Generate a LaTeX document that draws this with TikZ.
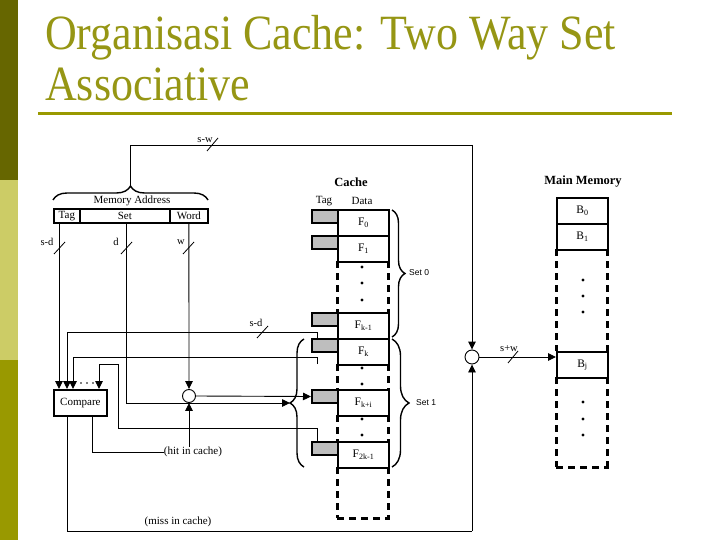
\documentclass[tikz,border=0pt]{standalone}
\usepackage{fontspec}
\setmainfont{Liberation Serif}
\newfontfamily\sansf{Liberation Sans}
\usetikzlibrary{decorations.pathreplacing,arrows.meta,calc}
\definecolor{olivedark}{RGB}{102,102,0}
\definecolor{olivelight}{RGB}{204,204,102}
\definecolor{olivemid}{RGB}{153,153,0}
\definecolor{titlecol}{RGB}{150,150,20}
\definecolor{taggray}{RGB}{190,190,190}
\tikzset{
  lbl/.style={font=\fontsize{11}{12}\selectfont, inner sep=0},
  small/.style={font=\fontsize{10.5}{11}\selectfont, inner sep=0},
  setlbl/.style={font=\sansf\fontsize{8.5}{9}\selectfont, inner sep=0, anchor=west},
  head/.style={font=\bfseries\fontsize{12.5}{14}\selectfont, inner sep=0},
  datarow/.style={draw, line width=2, fill=white, minimum width=51, minimum height=26, anchor=north west, inner sep=0, font=\fontsize{11.5}{12}\selectfont},
  tagbox/.style={draw, line width=2, fill=taggray, minimum width=26, minimum height=13, anchor=north west, inner sep=0},
  addrfield/.style={draw, line width=1.8, minimum height=14, anchor=north west, inner sep=0, font=\fontsize{11}{12}\selectfont},
  thickdash/.style={line width=3, dash pattern=on 7pt off 5pt},
  conn/.style={line width=0.9},
  arr/.style={conn, -{Triangle[length=8pt,width=7.5pt]}},
  slashmark/.style={line width=0.8},
  brc/.style={line width=1.4, decorate, decoration={brace, amplitude=#1}},
  dotmark/.style={circle, fill=black, inner sep=0, minimum size=3.2},
}
\begin{document}
\begin{tikzpicture}[x=1pt,y=-1pt]
\useasboundingbox (0,0) rectangle (720,540);
% side bar
\fill[olivedark] (0,0) rectangle (18,180);
\fill[olivelight] (0,180) rectangle (18,360);
\fill[olivemid] (0,360) rectangle (18,540);
% title
\node[anchor=base west, inner sep=0, text=titlecol, font=\fontsize{44}{50}\selectfont, yscale=1.12] (t1) at (45,50) {Organisasi Cache: Two Way Set};
\node[anchor=base west, inner sep=0, text=titlecol, font=\fontsize{44}{50}\selectfont, yscale=1.12] (t2) at (45,101) {Associative};
\draw[olivemid, line width=3] (38,114) -- (672,114);

% memory address
\node[addrfield, minimum width=26] (tagf) at (53,208) {Tag};
\node[addrfield, minimum width=90] (setf) at (79,208) {Set};
\node[addrfield, minimum width=38] (wordf) at (169,208) {Word};
\node[lbl] (maddr) at (132,201) {Memory Address};
\draw[brc=14] (53,200) -- (208,200);
\coordinate (btip) at (130.5,185);

% compare
\node[draw, line width=1.8, minimum width=53, minimum height=26, anchor=north west, inner sep=0, font=\fontsize{11}{12}\selectfont] (cmp) at (53,389) {Compare};

% cache header
\node[head] (cachelbl) at (351,182) {Cache};
\node[lbl] (taglbl) at (324,201) {Tag};
\node[lbl] (datalbl) at (362,201) {Data};

% cache rows
\node[datarow] (F0) at (337,209) {F\textsubscript{0}};
\node[datarow] (F1) at (337,235) {F\textsubscript{1}};
\node[datarow] (Fk1) at (337,312) {F\textsubscript{k-1}};
\node[datarow] (Fk) at (337,338) {F\textsubscript{k}};
\node[datarow] (Fki) at (337,389) {F\textsubscript{k+i}};
\node[datarow] (F2k) at (337,441) {F\textsubscript{2k-1}};
\node[tagbox] (T0) at (311,209) {};
\node[tagbox] (T1) at (311,235) {};
\node[tagbox] (Tk1) at (311,312) {};
\node[tagbox] (Tk) at (311,338) {};
\node[tagbox] (Tki) at (311,389) {};
\node[tagbox] (T2k) at (311,441) {};
% dashed sides
\foreach \ya/\yb in {261/312, 364/389, 415/441, 467/518}{
  \draw[thickdash] (337,\ya) -- (337,\yb);
  \draw[thickdash] (388,\ya) -- (388,\yb);
}
\draw[thickdash] (337,518) -- (390,518);
\foreach \yy in {267,283,300,368,384,419,435}{
  \node[dotmark] at (362,\yy) {};
}
% set braces
\draw[brc=13] (392,210) -- (392,337);
\node[setlbl] (set0) at (409,273) {Set 0};
\draw[brc=17] (392,339) -- (392,467);
\node[setlbl] (set1) at (416,403) {Set 1};
\draw[brc=14] (304,467) -- (304,339);
\coordinate (lbtip) at (290,403);

% main memory
\node[head] (mmlbl) at (583,182) {Main Memory};
\node[datarow] (B0) at (556,197) {B\textsubscript{0}};
\node[datarow] (B1) at (556,223) {B\textsubscript{1}};
\node[datarow] (Bj) at (556,351) {B\textsubscript{j}};
\foreach \ya/\yb in {249/351, 377/467}{
  \draw[thickdash] (556,\ya) -- (556,\yb);
  \draw[thickdash] (607,\ya) -- (607,\yb);
}
\draw[thickdash] (556,467) -- (609,467);
\foreach \yy in {280,296,312,402,419,435}{
  \node[dotmark] at (583,\yy) {};
}

% selectors
\node[circle, draw, line width=0.9, minimum size=13, inner sep=0] (selw) at (189,396) {};
\node[circle, draw, line width=0.9, minimum size=14, inner sep=0] (mux) at (472,357) {};

% coordinates
\coordinate (c1) at (130.5,145);
\coordinate (c2) at (472,145);
\coordinate (c3) at (67,531);
\coordinate (c4) at (472,531);

% top line s-w
\draw[conn] (btip) -- (c1) -- (c2);
\draw[arr] (c2) -- (mux.north);
\node[small] (lsw) at (205,140) {s-w};
\draw[slashmark] (207,151) -- (218,138);
% bottom (miss)
\draw[conn] ($(cmp.south west)+(14,0)$) -- (c3) -- (c4);
\draw[arr] (c4) -- (mux.south);
\node[lbl] (miss) at (178,522) {(miss in cache)};
% to memory
\draw[arr] (mux.east) -- (mux.east -| Bj.west);
\node[small] (lspw) at (509,349) {s+w};
\draw[slashmark] (508,363) -- (518,351);

% address field lines
\draw[arr] ($(tagf.south west)+(6,0)$) -- ($(cmp.north west)+(6,0)$);
\node[small] (lsd1) at (47,242) {s-d};
\draw[slashmark] (54,254) -- (65,242);
\coordinate (setdown) at (126,403);
\draw[conn] ($(setf.south west)+(47,0)$) -- (setdown);
\draw[arr] (setdown) -- (lbtip);
\node[small] (ld) at (116,242) {d};
\draw[slashmark] (121,254) -- (132,242);
\draw[arr] (wordf.south) -- (selw.north);
\node[small] (lw) at (181,242) {w};
\draw[slashmark] (183,254) -- (194,242);

% tag lines to compare
\coordinate (k1a) at (317,332);
\coordinate (k1b) at (67,332);
\draw[conn] ($(Tk.north west)+(6,0)$) -- (k1a) -- (k1b);
\draw[arr] (k1b) -- ($(cmp.north west)+(14,0)$);
\node[small] (lsd2) at (256,323) {s-d};
\draw[slashmark] (257,338) -- (268,326);
\coordinate (k2s) at (317,364);
\coordinate (k2a) at (317,357);
\coordinate (k2b) at (73,357);
\draw[conn] (k2s) -- (k2a) -- (k2b);
\draw[arr] (k2b) -- ($(cmp.north west)+(20,0)$);
\coordinate (k3a) at (317,428);
\coordinate (k3b) at (118,428);
\coordinate (k3c) at (118,364);
\coordinate (k3d) at (99,364);
\draw[conn] ($(T2k.north west)+(6,0)$) -- (k3a) -- (k3b) -- (k3c) -- (k3d);
\draw[arr] (k3d) -- ($(cmp.north west)+(46,0)$);
\foreach \xx in {81,87,93}{
  \fill (\xx,383) circle (0.9);
}
% hit in cache
\node[lbl] (hit) at (193,452) {(hit in cache)};
\draw[conn] ($(cmp.south west)+(39,0)$) |- (hit.west);
\draw[arr] (hit.north -| selw.south) -- (selw.south);
% selector output to cache tag
\draw[arr] (selw.east) -- (Tki.west);
\end{tikzpicture}
\end{document}
